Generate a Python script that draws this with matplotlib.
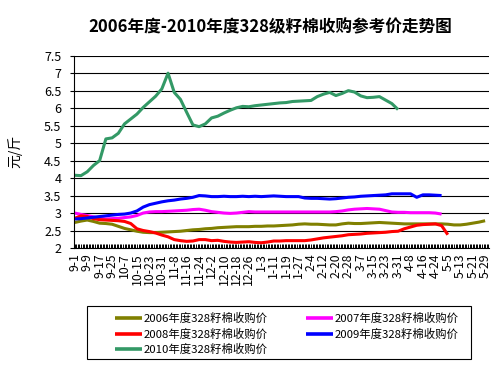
import numpy as np
import matplotlib
matplotlib.use("Agg")
import matplotlib.pyplot as plt
from matplotlib.patches import Rectangle

plt.rcParams['font.family'] = ['Noto Sans CJK SC', 'DejaVu Sans']

# ---- data (values sampled every 4 trading days along the category axis) ----
tick_labels = ["9-1", "9-9", "9-17", "9-25", "10-7", "10-15", "10-23", "10-31",
               "11-8", "11-16", "11-24", "12-2", "12-10", "12-18", "12-26",
               "1-3", "1-11", "1-19", "1-27", "2-4", "2-12", "2-20", "2-28",
               "3-7", "3-15", "3-23", "3-31", "4-8", "4-16", "4-24",
               "5-5", "5-13", "5-21", "5-29"]
n_days = 267
sample_step = 4

s2006 = [2.73, 2.77, 2.80, 2.76, 2.71, 2.70, 2.68, 2.62, 2.56, 2.52, 2.48, 2.45,
         2.44, 2.44, 2.45, 2.46, 2.47, 2.48, 2.50, 2.52, 2.53, 2.55, 2.56, 2.58,
         2.59, 2.60, 2.61, 2.61, 2.61, 2.62, 2.62, 2.63, 2.63, 2.64, 2.65, 2.66,
         2.68, 2.69, 2.68, 2.68, 2.67, 2.66, 2.66, 2.69, 2.71, 2.70, 2.70, 2.71,
         2.72, 2.73, 2.72, 2.71, 2.70, 2.69, 2.69, 2.69, 2.69, 2.69, 2.69, 2.69,
         2.68, 2.66, 2.66, 2.68, 2.71, 2.74, 2.78]
s2007 = [3.00, 2.96, 2.93, 2.89, 2.85, 2.83, 2.84, 2.85, 2.87, 2.89, 2.93, 3.00,
         3.03, 3.04, 3.04, 3.05, 3.06, 3.07, 3.08, 3.10, 3.11, 3.08, 3.04, 3.02,
         3.00, 2.99, 3.00, 3.02, 3.04, 3.03, 3.03, 3.03, 3.03, 3.03, 3.03, 3.03,
         3.03, 3.03, 3.03, 3.03, 3.03, 3.03, 3.04, 3.06, 3.09, 3.11, 3.12, 3.13,
         3.12, 3.11, 3.07, 3.03, 3.02, 3.02, 3.01, 3.01, 3.01, 3.01, 3.00, 2.97]
s2008 = [2.85, 2.92, 2.90, 2.84, 2.81, 2.80, 2.79, 2.78, 2.76, 2.70, 2.55, 2.50,
         2.47, 2.43, 2.37, 2.32, 2.24, 2.21, 2.19, 2.20, 2.24, 2.24, 2.21, 2.22,
         2.19, 2.17, 2.16, 2.17, 2.18, 2.16, 2.15, 2.17, 2.20, 2.20, 2.21, 2.21,
         2.21, 2.21, 2.23, 2.26, 2.29, 2.31, 2.33, 2.35, 2.38, 2.39, 2.40, 2.42,
         2.43, 2.44, 2.45, 2.47, 2.48, 2.55, 2.60, 2.65, 2.67, 2.68, 2.69, 2.64,
         2.38]
s2009 = [2.83, 2.84, 2.86, 2.88, 2.90, 2.92, 2.94, 2.96, 2.97, 3.00, 3.06, 3.17,
         3.24, 3.28, 3.32, 3.35, 3.37, 3.40, 3.42, 3.45, 3.50, 3.49, 3.47, 3.47,
         3.48, 3.47, 3.47, 3.48, 3.47, 3.48, 3.47, 3.48, 3.49, 3.48, 3.47, 3.47,
         3.47, 3.43, 3.42, 3.42, 3.41, 3.40, 3.41, 3.43, 3.45, 3.46, 3.48, 3.49,
         3.50, 3.51, 3.52, 3.55, 3.55, 3.55, 3.55, 3.45, 3.52, 3.52, 3.51, 3.50]
s2010 = [4.08, 4.07, 4.18, 4.36, 4.50, 5.12, 5.15, 5.28, 5.55, 5.69, 5.83, 6.02,
         6.18, 6.34, 6.55, 7.00, 6.45, 6.25, 5.88, 5.52, 5.47, 5.55, 5.72, 5.77,
         5.86, 5.94, 6.01, 6.05, 6.04, 6.07, 6.09, 6.11, 6.13, 6.15, 6.16, 6.19,
         6.20, 6.21, 6.22, 6.33, 6.40, 6.45, 6.36, 6.42, 6.50, 6.46, 6.35, 6.30,
         6.31, 6.33, 6.23, 6.13, 5.96]

series = [
    ("2006年度328籽棉收购价", s2006, "#808000"),
    ("2007年度328籽棉收购价", s2007, "#FF00FF"),
    ("2008年度328籽棉收购价", s2008, "#FF0000"),
    ("2009年度328籽棉收购价", s2009, "#0000FF"),
    ("2010年度328籽棉收购价", s2010, "#339966"),
]

W, H = 501, 373
fig = plt.figure(figsize=(W / 100, H / 100), dpi=100)
ax = fig.add_axes([74 / W, 1 - 248 / H, (489 - 74) / W, (248 - 55.7) / H])

handles = {}
for name, vals, col in series:
    x = np.arange(len(vals)) * sample_step
    h, = ax.plot(x, vals, color=col, lw=2.2, solid_capstyle='butt')
    handles[name] = h

ax.set_xlim(-0.5, n_days - 0.5)
ax.set_ylim(2, 7.5)
ax.set_yticks(np.arange(2, 7.51, 0.5))
ax.set_yticklabels([f"{v:g}" for v in np.arange(2, 7.51, 0.5)], fontsize=9)
ax.yaxis.grid(True, color='black', lw=0.8)
ax.set_axisbelow(True)

ax.set_xticks(np.arange(len(tick_labels)) * 8)
ax.set_xticklabels(tick_labels, rotation=90, fontsize=8.8)
ax.set_xticks(np.arange(n_days), minor=True)
ax.tick_params(axis='x', which='both', direction='in', length=3, width=0.7, pad=4)
ax.tick_params(axis='y', direction='out', length=3, width=0.8, pad=6)

for s in ['top', 'right']:
    ax.spines[s].set_visible(False)
for s in ['left', 'bottom']:
    ax.spines[s].set_linewidth(0.8)

ax.set_ylabel("元/斤", fontsize=10, labelpad=16)

fig.text(270 / W, 1 - 27 / H, "2006年度-2010年度328级籽棉收购参考价走势图",
         ha='center', va='center', fontsize=12, fontweight='bold')

order = ["2006年度328籽棉收购价", "2008年度328籽棉收购价", "2010年度328籽棉收购价",
         "2007年度328籽棉收购价", "2009年度328籽棉收购价"]
leg = fig.legend([handles[k] for k in order], order, ncol=2, loc='upper left',
                 bbox_to_anchor=(109 / W, 1 - 307 / H), fontsize=8.2,
                 frameon=False, handlelength=2.4, handletextpad=0.1,
                 columnspacing=3.4, labelspacing=0.38, borderpad=0.0)
for l in leg.get_lines():
    l.set_linewidth(2.6)

fig.patches.append(Rectangle((86.7 / W, 1 - 359.3 / H), (470.7 - 86.7) / W,
                             (359.3 - 306) / H, transform=fig.transFigure,
                             fill=False, edgecolor='black', lw=0.8))

fig.savefig("out.png", dpi=100)
